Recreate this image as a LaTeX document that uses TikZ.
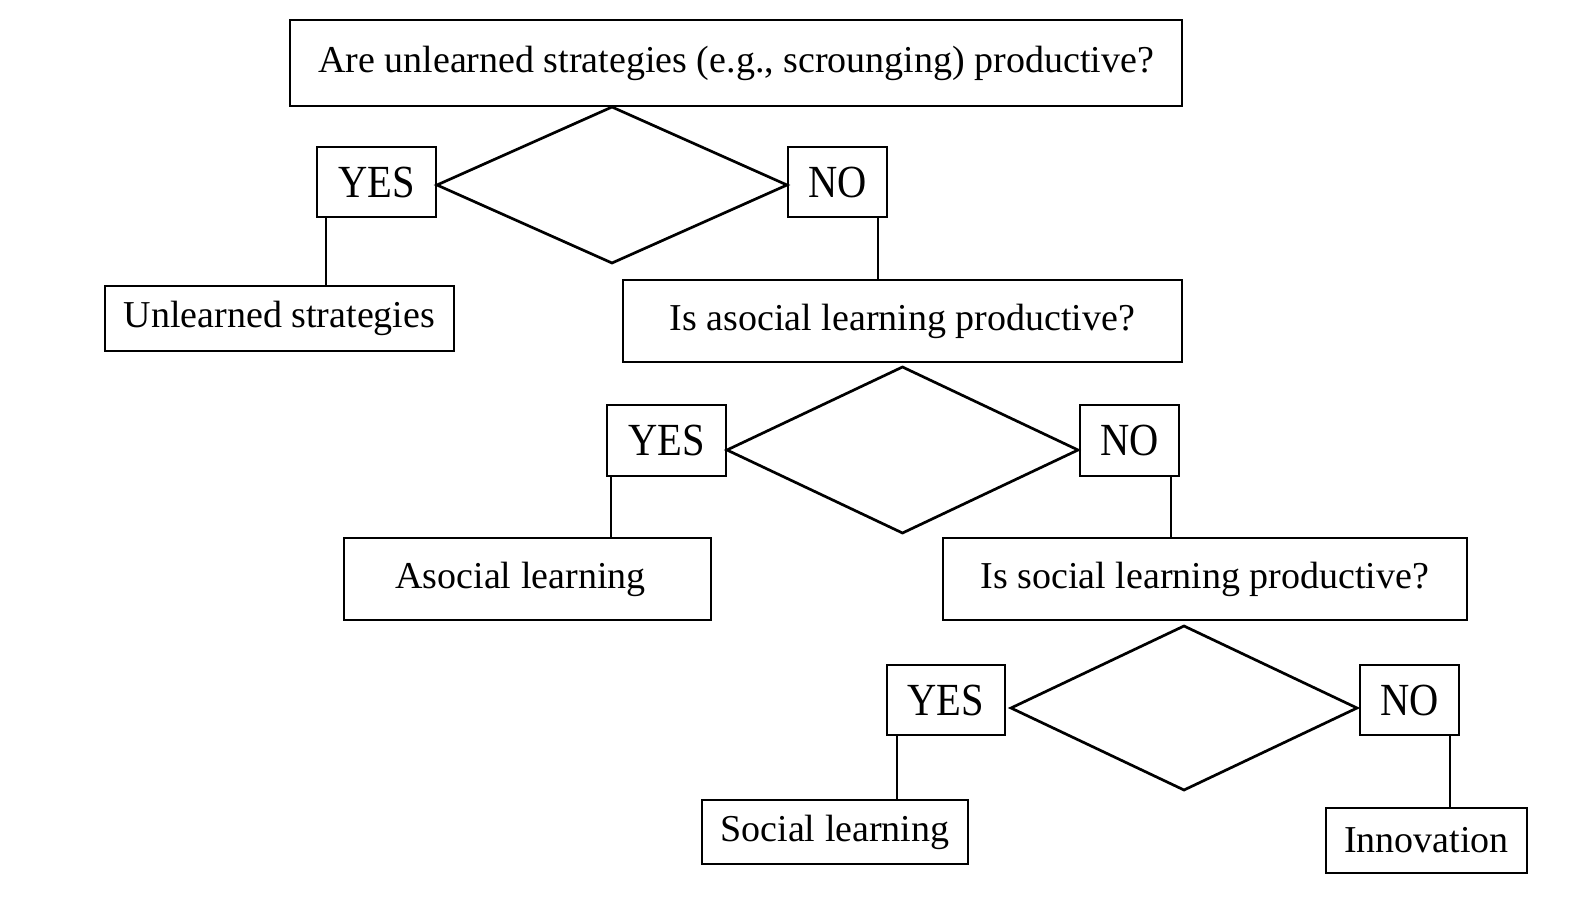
\documentclass[tikz,border=0pt]{standalone}
\usepackage{fontspec}
\setmainfont{Liberation Serif}
\newfontfamily\ansfont[FakeStretch=0.88]{Liberation Serif}
\usetikzlibrary{shapes.geometric}
\begin{document}
\begin{tikzpicture}[x=0.5pt,y=-0.5pt,
  every node/.style={inner sep=0pt, outer sep=0pt},
  qbox/.style={draw, line width=1.35pt, rectangle, font=\fontsize{19pt}{22pt}\selectfont},
  ansbox/.style={draw, line width=1.35pt, rectangle, minimum height=35pt, font=\ansfont\fontsize{23pt}{26pt}\selectfont},
  choice/.style={draw, line width=1.35pt, diamond, shape aspect=2},
  link/.style={line width=1.35pt}]
\useasboundingbox (0,0) rectangle (1587,905);
% level 1
\node[qbox, minimum width=446pt, minimum height=43pt] (q1) at (736,63) {Are unlearned strategies (e.g., scrounging) productive?};
\node[choice, minimum width=175pt, minimum height=78pt] (d1) at (612,185) {};
\node[ansbox, minimum width=59.5pt] (y1) at (376.5,182) {YES};
\node[ansbox, minimum width=49.5pt] (n1) at (837.5,182) {NO};
\node[qbox, minimum width=174.5pt, minimum height=32.5pt] (r1) at (279.5,318.5) {Unlearned strategies};
% level 2
\node[qbox, minimum width=279.5pt, minimum height=41pt] (q2) at (902.5,321) {Is asocial learning productive?};
\node[choice, minimum width=175.5pt, minimum height=83pt] (d2) at (902.5,450) {};
\node[ansbox, minimum width=59.5pt, minimum height=35.5pt] (y2) at (666.5,440.5) {YES};
\node[ansbox, minimum width=49.5pt, minimum height=35.5pt] (n2) at (1129.5,440.5) {NO};
\node[qbox, minimum width=183.5pt, minimum height=41pt] (r2) at (527.5,579) {\hspace*{-7pt}Asocial learning};
% level 3
\node[qbox, minimum width=262pt, minimum height=41pt] (q3) at (1205,579) {Is social learning productive?};
\node[choice, minimum width=173pt, minimum height=82pt] (d3) at (1184,708) {};
\node[ansbox, minimum width=59pt] (y3) at (946,700) {YES};
\node[ansbox, minimum width=49.5pt] (n3) at (1409.5,700) {NO};
\node[qbox, minimum width=133pt, minimum height=32pt] (r3) at (835,832) {Social learning};
\node[qbox, minimum width=100.5pt, minimum height=32.5pt] (r4) at (1426.5,840.5) {Innovation};
% connectors
\draw[link] ([xshift=4.5pt]y1.south west) -- ([xshift=4.5pt]y1.south west |- r1.north);
\draw[link] ([xshift=-4.5pt]n1.south east) -- ([xshift=-4.5pt]n1.south east |- q2.north);
\draw[link] ([xshift=2pt]y2.south west) -- ([xshift=2pt]y2.south west |- r2.north);
\draw[link] ([xshift=-4pt]n2.south east) -- ([xshift=-4pt]n2.south east |- q3.north);
\draw[link] ([xshift=5pt]y3.south west) -- ([xshift=5pt]y3.south west |- r3.north);
\draw[link] ([xshift=-4.5pt]n3.south east) -- ([xshift=-4.5pt]n3.south east |- r4.north);
\end{tikzpicture}
\end{document}
